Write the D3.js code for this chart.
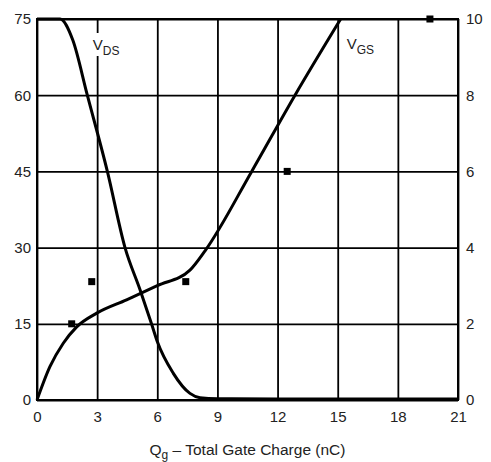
<!DOCTYPE html>
<html>
<head>
<meta charset="utf-8">
<script src="https://cdn.jsdelivr.net/npm/d3@7"></script>
<style>
  html, body { margin: 0; padding: 0; background: #fff; }
  svg { display: block; }
  text { font-family: "Liberation Sans", Arial, sans-serif; fill: #222; }
</style>
</head>
<body>
<svg id="chart" width="491" height="462"></svg>
<script>
// ---- data ----
const xTicks = [0, 3, 6, 9, 12, 15, 18, 21];
const leftTicks = [0, 15, 30, 45, 60, 75];
const rightTicks = [0, 2, 4, 6, 8, 10];

// V_DS (V, left axis) vs Qg (nC)
const vdsQ = [0, 1.15, 1.78, 2.51, 3.51, 4.39, 5.14, 5.72, 6.0, 6.8, 7.63, 8.13, 9.0, 12, 15, 18, 21];
const vdsV = [75, 75, 70.9, 60, 45, 30, 21.7, 14.9, 11.5, 5.25, 1.3, 0.45, 0.25, 0.2, 0.2, 0.2, 0.2];

// V_GS (V, right axis) vs Qg (nC)
const vgsQ = [0, 0.65, 1.31, 1.98, 2.98, 4.47, 6.0, 7.63, 8.4, 10.71, 12.87, 15.15];
const vgsV = [0, 0.88, 1.49, 1.92, 2.28, 2.63, 3.0, 3.41, 3.93, 6.0, 8.0, 10.0];

// square markers (left-axis units)
const markQ = [1.73, 2.73, 7.42, 12.48, 19.6];
const markV = [15, 23.3, 23.3, 45, 75];

// ---- layout ----
const mLeft = 37, mRight = 458, mTop = 19, mBottom = 400;
const svg = d3.select("#chart");

const x = d3.scaleLinear().domain([0, 21]).range([mLeft, mRight]);
const yL = d3.scaleLinear().domain([0, 75]).range([mBottom, mTop]);
const yR = d3.scaleLinear().domain([0, 10]).range([mBottom, mTop]);

// vertical grid + x labels
const gx = svg.append("g").attr("transform", `translate(0,${mBottom})`)
  .call(d3.axisBottom(x).tickValues(xTicks).tickSize(-(mBottom - mTop)).tickPadding(11));
gx.select(".domain").remove();
gx.selectAll("line").attr("stroke", "#000").attr("stroke-width", 1.8);
gx.selectAll("text").attr("font-size", 15).style("fill", "#222");

// horizontal grid + left labels
const gl = svg.append("g").attr("transform", `translate(${mLeft},0)`)
  .call(d3.axisLeft(yL).tickValues(leftTicks).tickSize(-(mRight - mLeft)).tickPadding(6));
gl.select(".domain").remove();
gl.selectAll("line").attr("stroke", "#000").attr("stroke-width", 1.8);
gl.selectAll("text").attr("font-size", 15).style("fill", "#222");

// right labels
const gr = svg.append("g").attr("transform", `translate(${mRight},0)`)
  .call(d3.axisRight(yR).tickValues(rightTicks).tickSize(0).tickPadding(8));
gr.select(".domain").remove();
gr.selectAll("text").attr("font-size", 15).style("fill", "#222");

// border
svg.append("rect").attr("x", mLeft).attr("y", mTop)
  .attr("width", mRight - mLeft).attr("height", mBottom - mTop)
  .attr("fill", "none").attr("stroke", "#000").attr("stroke-width", 2);

// label backgrounds & labels
svg.append("rect").attr("x", x(2.75)).attr("y", 33).attr("width", 34).attr("height", 23).attr("fill", "#fff");

const lbl1 = svg.append("text").attr("x", x(2.78)).attr("y", 50).attr("font-size", 15);
lbl1.append("tspan").text("V");
lbl1.append("tspan").attr("font-size", 12).attr("dy", 5).text("DS");

const lbl2 = svg.append("text").attr("x", x(15.45)).attr("y", 49).attr("font-size", 15);
lbl2.append("tspan").text("V");
lbl2.append("tspan").attr("font-size", 12).attr("dy", 5).text("GS");

// curves
const vdsData = vdsQ.map((q, i) => [q, vdsV[i]]);
const vgsData = vgsQ.map((q, i) => [q, vgsV[i]]);

svg.append("path").datum(vdsData)
  .attr("d", d3.line().x(d => x(d[0])).y(d => yL(d[1])).curve(d3.curveMonotoneX))
  .attr("fill", "none").attr("stroke", "#000").attr("stroke-width", 3).attr("stroke-linejoin", "round");

svg.append("path").datum(vgsData)
  .attr("d", d3.line().x(d => x(d[0])).y(d => yR(d[1])).curve(d3.curveMonotoneX))
  .attr("fill", "none").attr("stroke", "#000").attr("stroke-width", 3).attr("stroke-linejoin", "round");

// markers
const ms = 7;
svg.append("g").selectAll("rect").data(markQ.map((q, i) => [q, markV[i]])).join("rect")
  .attr("x", d => x(d[0]) - ms / 2).attr("y", d => yL(d[1]) - ms / 2)
  .attr("width", ms).attr("height", ms).attr("fill", "#000");

// x-axis title
const t = svg.append("text").attr("x", (mLeft + mRight) / 2).attr("y", 455)
  .attr("text-anchor", "middle").attr("font-size", 15.5);
t.append("tspan").text("Q");
t.append("tspan").attr("font-size", 12).attr("dy", 4).text("g");
t.append("tspan").attr("dy", -4).text(" \u2013 Total Gate Charge (nC)");
</script>
</body>
</html>
